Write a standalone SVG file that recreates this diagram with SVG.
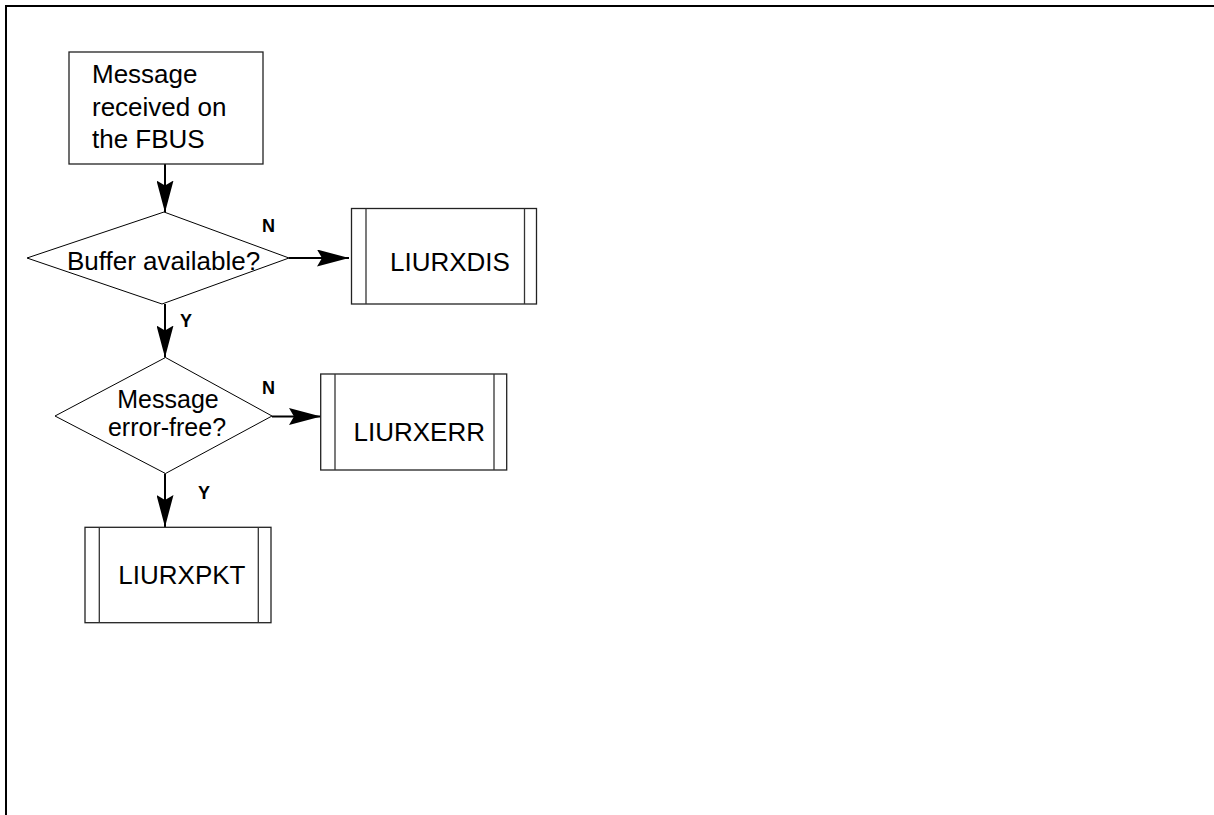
<svg xmlns="http://www.w3.org/2000/svg" width="1214" height="815" viewBox="0 0 1214 815">
  <style>
    .frame { stroke: #000; stroke-width: 2; fill: none; }
    .box { fill: #fff; stroke: #222; stroke-width: 1.3; }
    .bar { stroke: #333; stroke-width: 1.3; }
    .dec { fill: #fff; stroke: #000; stroke-width: 1; }
    .txt { font-family: "Liberation Sans", Arial, sans-serif; font-size: 26px; fill: #000; }
    .txt2 { font-family: "Liberation Sans", Arial, sans-serif; font-size: 25px; fill: #000; text-anchor: middle; }
    .lbl { font-family: "Liberation Sans", Arial, sans-serif; font-size: 18px; font-weight: bold; fill: #000; }
    .flow { stroke: #000; stroke-width: 2; fill: none; marker-end: url(#head); }
  </style>
  <defs>
    <marker id="head" viewBox="0 0 32 17" refX="32" refY="8.5" markerWidth="32" markerHeight="17" markerUnits="userSpaceOnUse" orient="auto">
      <path d="M0,0 L32,8.5 L0,17 L5,8.5 Z" fill="#000"/>
    </marker>
  </defs>

  <rect width="1214" height="815" fill="#fff"/>
  <!-- page frame: top and left rules -->
  <path class="frame" d="M6,815 V6 H1214"/>

  <g id="connectors">
    <line class="flow" x1="165" y1="164" x2="165" y2="212.5"/>
    <line class="flow" x1="289" y1="258" x2="349" y2="258"/>
    <line class="flow" x1="165" y1="304" x2="165" y2="357.5"/>
    <line class="flow" x1="272" y1="416.5" x2="321" y2="416.5"/>
    <line class="flow" x1="165" y1="473.5" x2="165" y2="527"/>
    <text class="lbl" x="262" y="232">N</text>
    <text class="lbl" x="180" y="327">Y</text>
    <text class="lbl" x="262" y="394">N</text>
    <text class="lbl" x="198" y="499">Y</text>
  </g>

  <g id="start">
    <rect class="box" x="69" y="52" width="194" height="112"/>
    <text class="txt" x="92" y="83">Message</text>
    <text class="txt" x="92" y="116">received on</text>
    <text class="txt" x="92" y="148">the FBUS</text>
  </g>

  <g id="buffer-check">
    <polygon class="dec" points="164,212 289,258 162,304 27,258"/>
    <text class="txt" x="67" y="270">Buffer available?</text>
  </g>

  <g id="liurxdis">
    <rect class="box" x="351.5" y="208.5" width="185" height="95.5"/>
    <line class="bar" x1="366" y1="208.5" x2="366" y2="304"/>
    <line class="bar" x1="524.5" y1="208.5" x2="524.5" y2="304"/>
    <text class="txt" x="390" y="270.5">LIURXDIS</text>
  </g>

  <g id="error-check">
    <polygon class="dec" points="165.5,357.5 272,416 165.5,473.5 55,416"/>
    <text class="txt2" x="168" y="407.5">Message</text>
    <text class="txt2" x="167" y="436">error-free?</text>
  </g>

  <g id="liurxerr">
    <rect class="box" x="320.7" y="374" width="186" height="96"/>
    <line class="bar" x1="335" y1="374" x2="335" y2="470"/>
    <line class="bar" x1="494" y1="374" x2="494" y2="470"/>
    <text class="txt" x="353.5" y="440.7">LIURXERR</text>
  </g>

  <g id="liurxpkt">
    <rect class="box" x="85" y="527.3" width="186" height="95.4"/>
    <line class="bar" x1="99.3" y1="527.3" x2="99.3" y2="622.7"/>
    <line class="bar" x1="258.3" y1="527.3" x2="258.3" y2="622.7"/>
    <text class="txt" x="118.3" y="584">LIURXPKT</text>
  </g>
</svg>
